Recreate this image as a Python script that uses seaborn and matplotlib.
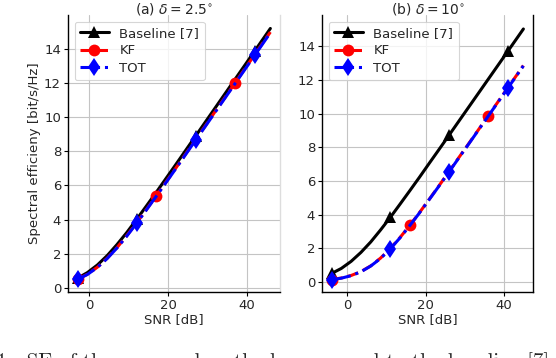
import numpy as np
import pandas as pd
import matplotlib
matplotlib.use("Agg")
import matplotlib.pyplot as plt
import seaborn as sns

# ---- data ----
snr_a = [-3, -0.5, 2, 4.5, 7, 9.5, 12, 14.5, 17, 19.5, 22, 24.5, 27, 29.5, 32, 34.5, 37, 39.5, 42, 44.5, 46]
base_a = [0.56, 0.89, 1.33, 1.88, 2.53, 3.24, 4.01, 4.80, 5.60, 6.42, 7.24, 8.07, 8.90, 9.73, 10.56, 11.39, 12.22, 13.05, 13.88, 14.71, 15.21]
kf_a = [0.50, 0.79, 1.20, 1.73, 2.35, 3.06, 3.81, 4.59, 5.40, 6.21, 7.03, 7.86, 8.69, 9.51, 10.35, 11.17, 12.01, 12.84, 13.67, 14.50, 15.00]
tot_a = [0.49, 0.78, 1.19, 1.71, 2.33, 3.03, 3.78, 4.57, 5.37, 6.18, 7.00, 7.83, 8.66, 9.48, 10.31, 11.14, 11.97, 12.80, 13.63, 14.46, 14.96]

snr_b = [-4, -1.5, 1, 3.5, 6, 8.5, 11, 13.5, 16, 18.5, 21, 23.5, 26, 28.5, 31, 33.5, 36, 38.5, 41, 43.5, 45]
base_b = [0.50, 0.80, 1.22, 1.75, 2.37, 3.08, 3.83, 4.62, 5.42, 6.23, 7.06, 7.88, 8.71, 9.54, 10.37, 11.20, 12.03, 12.86, 13.69, 14.52, 15.02]
kf_b = [0.14, 0.23, 0.38, 0.61, 0.95, 1.41, 1.98, 2.64, 3.36, 4.13, 4.92, 5.73, 6.55, 7.38, 8.20, 9.03, 9.86, 10.69, 11.52, 12.35, 12.85]
tot_b = [0.13, 0.22, 0.37, 0.60, 0.94, 1.39, 1.96, 2.62, 3.35, 4.11, 4.91, 5.71, 6.53, 7.36, 8.18, 9.01, 9.84, 10.67, 11.50, 12.33, 12.83]

series_names = ["Baseline [7]", "KF", "TOT"]
titles = [r"(a) $\delta = 2.5^{\circ}$", r"(b) $\delta = 10^{\circ}$"]
xticks = [0, 20, 40]
yticks = [0, 2, 4, 6, 8, 10, 12, 14]
caption = "Fig. 1.  SE of the proposed methods compared to the baseline [7]."

sns.set_theme(style="whitegrid")
plt.rcParams["font.family"] = ["DejaVu Sans"]
plt.rcParams["font.size"] = 9.5

fig = plt.figure(figsize=(5.56, 3.58), dpi=100)
ax1 = fig.add_axes([0.1223, 0.1844, 0.3813, 0.7737])
ax2 = fig.add_axes([0.5791, 0.1844, 0.3795, 0.7737])

styles = [
    dict(color="black", linestyle="-", marker="^", markevery=6, markersize=8),
    dict(color="red", linestyle="--", marker="o", markevery=8, markersize=8.5),
    dict(color="blue", linestyle="-.", marker="d", markevery=6, markersize=9.5),
]

panels = [
    (ax1, snr_a, [base_a, kf_a, tot_a]),
    (ax2, snr_b, [base_b, kf_b, tot_b]),
]

for i, (ax, snr, ys) in enumerate(panels):
    for name, y, st in zip(series_names, ys, styles):
        df = pd.DataFrame({"SNR": snr, "SE": y})
        sns.lineplot(data=df, x="SNR", y="SE", ax=ax, label=name, linewidth=2.2,
                     markeredgewidth=0, **st)
    ax.set_title(titles[i], fontsize=10, pad=1)
    ax.set_xlabel("SNR [dB]", fontsize=9.5, labelpad=1)
    ax.set_xticks(xticks)
    ax.set_yticks(yticks)
    ax.tick_params(axis="both", labelsize=9.5, length=3, width=0.8, color="black",
                   pad=2, left=True, bottom=True)
    ax.grid(True, color="#c4c4c4", linewidth=0.8)
    ax.set_facecolor("white")
    for s in ["left", "bottom"]:
        ax.spines[s].set_color("black")
        ax.spines[s].set_linewidth(1.0)
    ax.spines["top"].set_visible(False)
    leg = ax.legend(loc="upper left", fontsize=9.5, frameon=True, handlelength=2.2,
                    borderpad=0.4, labelspacing=0.35, handletextpad=0.8)
    leg.get_frame().set_edgecolor("#cccccc")
    leg.get_frame().set_linewidth(0.8)

ax1.spines["right"].set_color("#dddddd")
ax1.spines["right"].set_linewidth(1.0)
ax2.spines["right"].set_color("black")
ax2.spines["right"].set_linewidth(1.0)

ax1.set_ylabel("Spectral efficieny [bit/s/Hz]", fontsize=9.5, labelpad=2)
ax2.set_ylabel("")
ax1.set_xlim(-5.45, 48.45)
ax1.set_ylim(-0.25, 16.0)
ax2.set_xlim(-6.45, 47.45)
ax2.set_ylim(-0.6, 15.85)

fig.text(-0.082, 0.017, caption, fontsize=15, family=["cmr10", "DejaVu Serif"],
         ha="left", va="top")

fig.savefig("out.png", dpi=100)
